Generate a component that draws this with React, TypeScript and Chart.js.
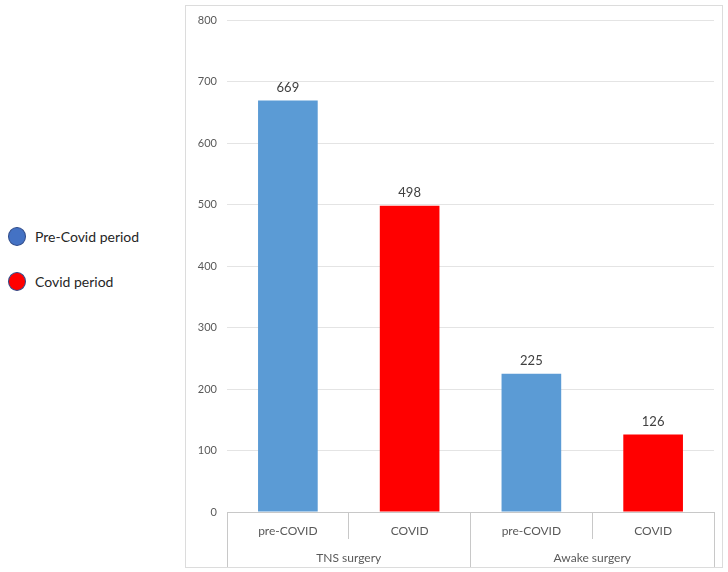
import React, { useEffect, useRef } from "react";
import { Chart, registerables } from "chart.js";

Chart.register(...registerables);

const categories = ["pre-COVID", "COVID", "pre-COVID", "COVID"];
const groups = ["TNS surgery", "Awake surgery"];
const values = [669, 498, 225, 126];
const barColors = ["#5b9bd5", "#ff0000", "#5b9bd5", "#ff0000"];
const yTicks = [0, 100, 200, 300, 400, 500, 600, 700, 800];
const legendItems = [
  { label: "Pre-Covid period", color: "#4472c4" },
  { label: "Covid period", color: "#ff0000" },
];

const FONT = "Lato, 'Open Sans', sans-serif";

const valueLabels = {
  id: "valueLabels",
  afterDatasetsDraw(chart: any) {
    const ctx = chart.ctx;
    const meta = chart.getDatasetMeta(0);
    ctx.save();
    ctx.font = `13px ${FONT}`;
    ctx.fillStyle = "#404040";
    ctx.textAlign = "center";
    ctx.textBaseline = "bottom";
    meta.data.forEach((bar: any, i: number) => {
      ctx.fillText(String(values[i]), bar.x, bar.y - 6);
    });
    ctx.restore();
  },
};

export default function App() {
  const ref = useRef<HTMLCanvasElement | null>(null);

  useEffect(() => {
    if (!ref.current) return;
    const chart = new Chart(ref.current, {
      type: "bar",
      data: {
        labels: categories,
        datasets: [
          {
            data: values,
            backgroundColor: barColors,
            barPercentage: 0.49,
            categoryPercentage: 1,
          },
        ],
      },
      options: {
        animation: false,
        responsive: false,
        maintainAspectRatio: false,
        layout: { padding: { top: 14, right: 8, left: 0, bottom: 0 } },
        plugins: { legend: { display: false }, tooltip: { enabled: false } },
        scales: {
          y: {
            min: 0,
            max: 800,
            afterBuildTicks: (s: any) => {
              s.ticks = yTicks.map((v) => ({ value: v }));
            },
            afterFit: (s: any) => {
              s.width = 41;
              s.paddingTop = 0;
              s.paddingBottom = 0;
            },
            grid: { color: "#e4e4e4", drawTicks: false },
            border: { display: false },
            ticks: {
              padding: 10,
              color: "#595959",
              font: { family: FONT, size: 11 },
            },
          },
          x: {
            type: "category",
            position: "bottom",
            afterFit: (s: any) => {
              s.height = 27;
            },
            grid: {
              display: true,
              drawOnChartArea: false,
              drawTicks: true,
              tickLength: 27,
              offset: true,
              color: "#c8c8c8",
            },
            border: { display: true, color: "#c8c8c8" },
            ticks: {
              padding: -15,
              color: "#595959",
              font: { family: FONT, size: 12 },
            },
          },
          x2: {
            type: "category",
            position: "bottom",
            labels: groups,
            afterFit: (s: any) => {
              s.height = 28;
            },
            grid: {
              display: true,
              drawOnChartArea: false,
              drawTicks: true,
              tickLength: 28,
              offset: true,
              color: "#c8c8c8",
            },
            border: { display: false },
            ticks: {
              padding: -16,
              color: "#595959",
              font: { family: FONT, size: 12 },
            },
          },
        },
      },
      plugins: [valueLabels],
    } as any);
    return () => chart.destroy();
  }, []);

  return (
    <div
      style={{
        position: "absolute",
        left: 0,
        top: 0,
        width: 728,
        height: 572,
        background: "#fff",
        fontFamily: FONT,
      }}
    >
      {legendItems.map((it, i) => (
        <div
          key={it.label}
          style={{
            position: "absolute",
            left: 8,
            top: 227 + i * 45,
            height: 19,
            display: "flex",
            alignItems: "center",
          }}
        >
          <div
            style={{
              width: 16,
              height: 17,
              borderRadius: "50%",
              background: it.color,
              border: "1px solid #2f4b8a",
            }}
          />
          <span
            style={{
              marginLeft: 9,
              fontSize: 14,
              color: "#262626",
              whiteSpace: "nowrap",
            }}
          >
            {it.label}
          </span>
        </div>
      ))}
      <div
        style={{
          position: "absolute",
          left: 185,
          top: 5,
          width: 536,
          height: 561,
          border: "1px solid #dcdcdc",
        }}
      >
        <canvas ref={ref} width={536} height={561} style={{ display: "block" }} />
      </div>
    </div>
  );
}
